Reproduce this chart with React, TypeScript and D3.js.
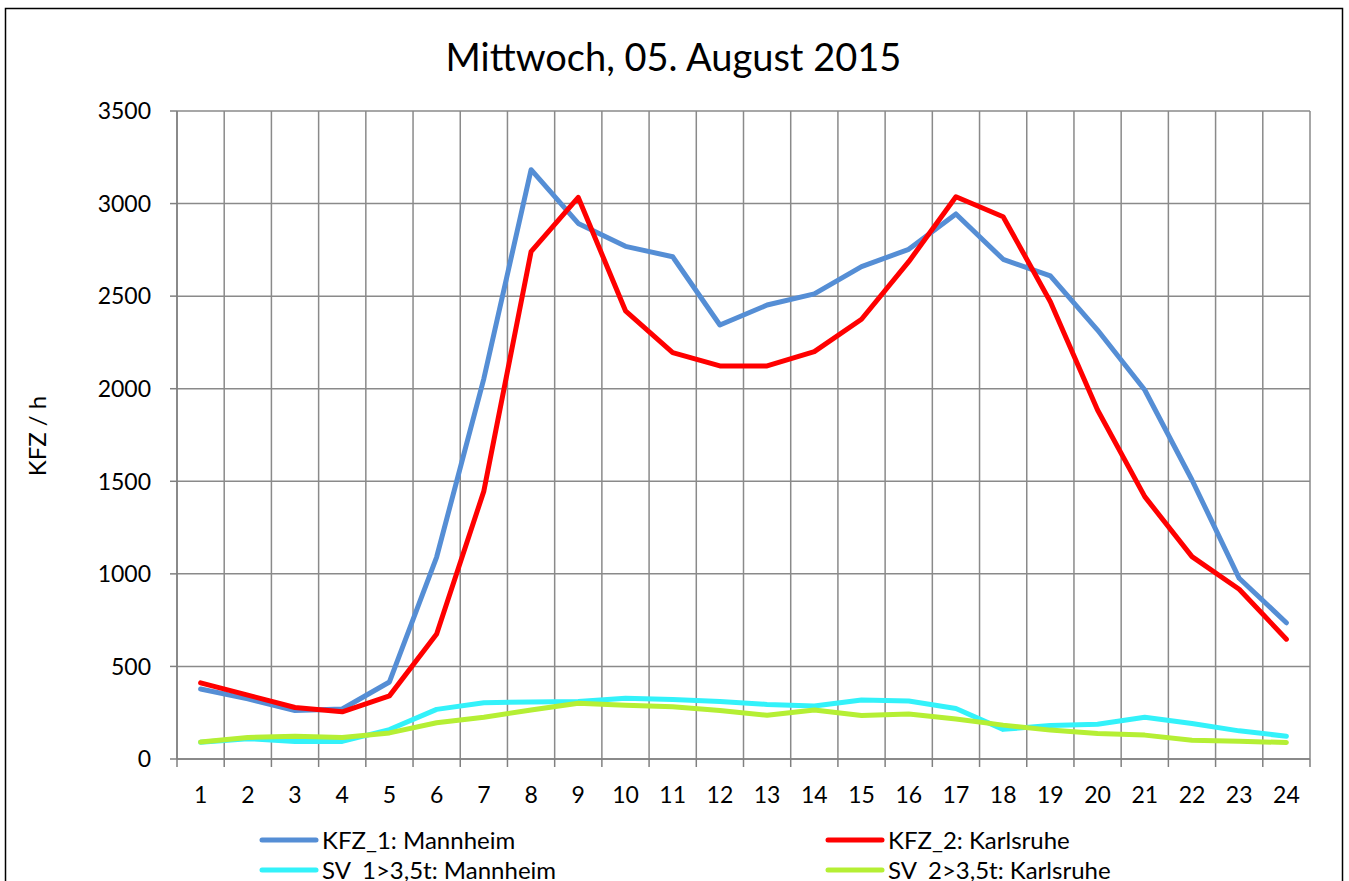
import React from "react";
import * as d3 from "d3";

const hours: string[] = ["1","2","3","4","5","6","7","8","9","10","11","12","13","14","15","16","17","18","19","20","21","22","23","24"];
const kfz1Mannheim: number[] = [378, 325, 262, 270, 416, 1091, 2055, 3183, 2893, 2769, 2713, 2344, 2452, 2512, 2659, 2753, 2944, 2699, 2609, 2317, 1993, 1507, 976, 736];
const kfz2Karlsruhe: number[] = [411, 345, 278, 255, 341, 675, 1447, 2740, 3033, 2421, 2195, 2123, 2123, 2200, 2375, 2686, 3037, 2929, 2470, 1885, 1417, 1093, 917, 647];
const sv1Mannheim: number[] = [90, 110, 95, 95, 159, 268, 304, 308, 310, 328, 322, 310, 295, 286, 319, 313, 273, 160, 181, 188, 225, 192, 152, 123];
const sv2Karlsruhe: number[] = [92, 116, 123, 116, 141, 196, 225, 265, 301, 290, 282, 262, 236, 265, 235, 243, 216, 183, 156, 138, 129, 101, 96, 89];
const yTicks: number[] = [0, 500, 1000, 1500, 2000, 2500, 3000, 3500];

const titleText = "Mittwoch, 05. August 2015";
const yAxisLabel = "KFZ / h";

const seriesNames: string[] = ["KFZ_1: Mannheim", "KFZ_2: Karlsruhe", "SV_1>3,5t: Mannheim", "SV_2>3,5t: Karlsruhe"];
const seriesColors: string[] = ["#558ED5", "#FF0000", "#33F2FA", "#B5EF34"];

export default function App() {
  const W = 1349, H = 881;
  const left = 177, right = 1310, top = 111, bottom = 759;
  const font = "Lato, 'Open Sans', sans-serif";
  const gridColor = "#8a8a8a";

  const x = d3.scaleBand<string>().domain(hours).range([left, right]).padding(0);
  const y = d3.scaleLinear().domain([0, 3500]).range([bottom, top]);
  const bw = x.bandwidth();
  const cx = (h: string) => (x(h) as number) + bw / 2;

  const allSeries = [kfz1Mannheim, kfz2Karlsruhe, sv1Mannheim, sv2Karlsruhe];
  const line = d3.line<number>()
    .x((_, i) => cx(hours[i]))
    .y((d) => y(d));

  const boundaries = hours.map((h) => x(h) as number).concat([right]);

  const legendRows = [
    { idx: 0, lx: 262, ly: 840 },
    { idx: 1, lx: 828, ly: 840 },
    { idx: 2, lx: 262, ly: 870 },
    { idx: 3, lx: 828, ly: 870 },
  ];

  return (
    <svg width={W} height={H} style={{ position: "absolute", left: 0, top: 0, background: "#fff" }}>
      <rect x={0} y={0} width={W} height={H} fill="#fff" />
      <rect x={5.5} y={8.5} width={1337} height={900} fill="#fff" stroke="#000" strokeWidth={1.5} />
      <text x={673.5} y={71} textAnchor="middle" fontFamily={font} fontSize={38} fill="#000">{titleText}</text>

      {yTicks.map((t) => (
        <line key={"h" + t} x1={left} x2={right} y1={y(t)} y2={y(t)} stroke={gridColor} strokeWidth={1.5} />
      ))}
      {boundaries.map((b, i) => (
        <line key={"v" + i} x1={b} x2={b} y1={top} y2={bottom} stroke={gridColor} strokeWidth={1.5} />
      ))}
      <line x1={left} x2={left} y1={top} y2={bottom} stroke="#808080" strokeWidth={1.5} />
      <line x1={left} x2={right} y1={bottom} y2={bottom} stroke="#808080" strokeWidth={1.5} />
      {yTicks.map((t) => (
        <line key={"yt" + t} x1={left - 7} x2={left} y1={y(t)} y2={y(t)} stroke="#808080" strokeWidth={1.5} />
      ))}
      {boundaries.map((b, i) => (
        <line key={"xt" + i} x1={b} x2={b} y1={bottom} y2={bottom + 8} stroke="#808080" strokeWidth={1.5} />
      ))}

      {yTicks.map((t) => (
        <text key={"yl" + t} x={151} y={y(t)} dy="0.36em" textAnchor="end" fontFamily={font} fontSize={23} fill="#000">{t}</text>
      ))}
      {hours.map((h) => (
        <text key={"xl" + h} x={cx(h)} y={803} textAnchor="middle" fontFamily={font} fontSize={23} fill="#000">{h}</text>
      ))}

      <text transform={`translate(46,436) rotate(-90)`} textAnchor="middle" fontFamily={font} fontSize={24} fill="#000">{yAxisLabel}</text>

      {allSeries.map((s, i) => (
        <path key={"s" + i} d={line(s) || ""} fill="none" stroke={seriesColors[i]} strokeWidth={5} strokeLinejoin="round" strokeLinecap="round" />
      ))}

      {legendRows.map((r) => (
        <g key={"lg" + r.idx}>
          <line x1={r.lx} x2={r.lx + 54} y1={r.ly} y2={r.ly} stroke={seriesColors[r.idx]} strokeWidth={5} strokeLinecap="round" />
          <text x={r.lx + 60} y={r.ly} dy="0.36em" fontFamily={font} fontSize={24} fill="#000">{seriesNames[r.idx]}</text>
        </g>
      ))}
    </svg>
  );
}
